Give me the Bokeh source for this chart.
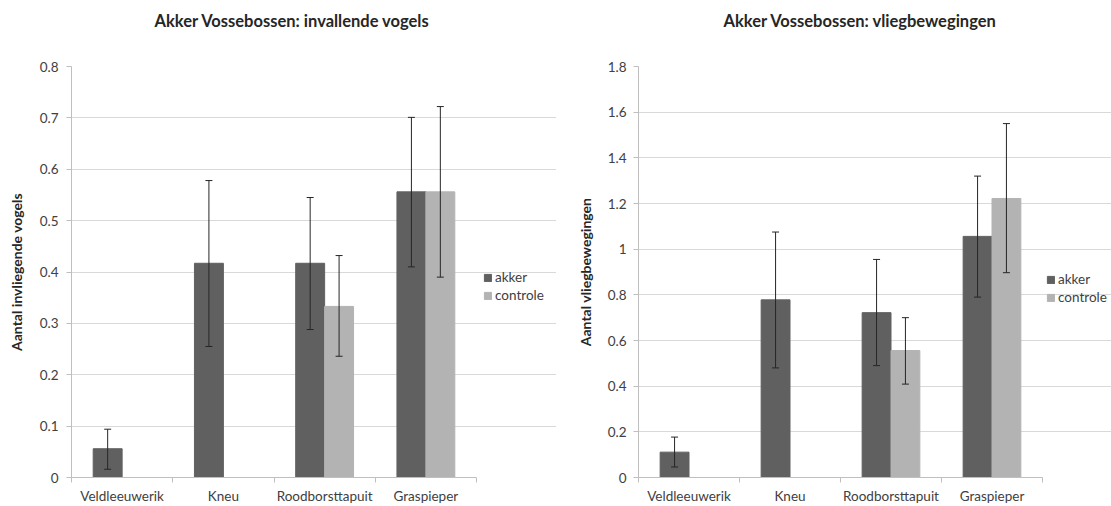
from bokeh.plotting import figure
from bokeh.models import (ColumnDataSource, Range1d, FixedTicker, Whisker, TeeHead,
                          Legend, LegendItem, CustomJSTickFormatter, Title)
from bokeh.layouts import row
from bokeh.transform import dodge
from bokeh.embed import file_html
from bokeh.resources import INLINE

# ---------------- data ----------------
categories = ["Veldleeuwerik", "Kneu", "Roodborsttapuit", "Graspieper"]
series_names = ["akker", "controle"]

# Chart 1: invallende vogels
inv_akker = [0.056, 0.417, 0.417, 0.556]
inv_akker_hi = [0.094, 0.578, 0.545, 0.701]
inv_akker_lo = [0.016, 0.255, 0.288, 0.410]
inv_controle = [None, None, 0.333, 0.556]
inv_controle_hi = [None, None, 0.432, 0.722]
inv_controle_lo = [None, None, 0.236, 0.390]
inv_yticks = [0, 0.1, 0.2, 0.3, 0.4, 0.5, 0.6, 0.7, 0.8]

# Chart 2: vliegbewegingen
vl_akker = [0.111, 0.778, 0.722, 1.056]
vl_akker_hi = [0.177, 1.075, 0.955, 1.320]
vl_akker_lo = [0.046, 0.480, 0.490, 0.790]
vl_controle = [None, None, 0.556, 1.222]
vl_controle_hi = [None, None, 0.700, 1.550]
vl_controle_lo = [None, None, 0.409, 0.897]
vl_yticks = [0, 0.2, 0.4, 0.6, 0.8, 1.0, 1.2, 1.4, 1.6, 1.8]

# ---------------- style ----------------
FONT = "Lato"
C_AKKER = "#606060"
C_CONTROLE = "#B3B3B3"
C_AXIS = "#BFBFBF"
C_GRID = "#D9D9D9"
C_TEXT = "#404040"
C_DARK = "#262626"
BAR_W = 0.2857
OFF = BAR_W / 2
FIG_H = 506


def make_source(vals, hi, lo):
    idx = [i for i, v in enumerate(vals) if v is not None]
    return ColumnDataSource(dict(
        x=[i for i in idx],
        top=[vals[i] for i in idx],
        hi=[hi[i] for i in idx],
        lo=[lo[i] for i in idx],
    ))


def make_chart(title, ylabel, yticks, a, ah, al, c, ch, cl,
               width, bl, cat_px, title_offset, legend_loc, label_standoff,
               ax_label_standoff):
    n = len(categories)
    frame_w = width - bl
    # the frame runs to the figure's right edge so that the legend (drawn in the
    # frame) is not clipped; grid and axis are bounded to the category area
    x_end = -0.5 + frame_w / cat_px
    p = figure(width=width, height=FIG_H, output_backend="svg", toolbar_location=None,
               x_range=Range1d(-0.5, x_end),
               y_range=Range1d(0, yticks[-1]),
               min_border_left=bl, min_border_right=0,
               min_border_top=66, min_border_bottom=27,
               outline_line_color=None, background_fill_color="white",
               border_fill_color="white")

    p.add_layout(Title(text=" ", text_font=FONT, text_font_size="15px", standoff=16), "above")
    p.title.standoff = 0
    p.title.text = title
    p.title.align = "left"
    p.title.offset = title_offset
    p.title.text_font = FONT
    p.title.text_font_size = "16.5px"
    p.title.text_font_style = "bold"
    p.title.text_color = C_DARK

    sa = make_source(a, ah, al)
    sc = make_source(c, ch, cl)

    ra = p.vbar(x=dodge("x", -OFF), top="top", width=BAR_W, source=sa,
                fill_color=C_AKKER, line_color=C_AKKER)
    rc = p.vbar(x=dodge("x", OFF), top="top", width=BAR_W, source=sc,
                fill_color=C_CONTROLE, line_color=C_CONTROLE)

    for src, off in ((sa, -OFF), (sc, OFF)):
        w = Whisker(source=src, base=dodge("x", off), upper="hi", lower="lo",
                    level="annotation",
                    line_color=C_DARK, line_width=1,
                    upper_head=TeeHead(size=7, line_color=C_DARK, line_width=1),
                    lower_head=TeeHead(size=7, line_color=C_DARK, line_width=1))
        p.add_layout(w)

    # x axis
    xa = p.xaxis[0]
    xa.bounds = (-0.5, n - 0.5)
    xa.ticker = FixedTicker(ticks=list(range(n)),
                            minor_ticks=[i - 0.5 for i in range(n + 1)])
    xa.major_label_overrides = {i: name for i, name in enumerate(categories)}
    xa.major_tick_line_color = None
    xa.major_tick_out = 0
    xa.minor_tick_out = 5
    xa.minor_tick_in = 0
    xa.minor_tick_line_color = C_AXIS
    xa.axis_line_color = C_AXIS
    xa.major_label_text_font = FONT
    xa.major_label_text_font_size = "13.5px"
    xa.major_label_text_color = C_TEXT
    xa.major_label_standoff = 5

    # y axis
    ya = p.yaxis[0]
    ya.ticker = FixedTicker(ticks=yticks, minor_ticks=[])
    ya.formatter = CustomJSTickFormatter(code="return String(+tick.toFixed(2));")
    ya.major_tick_out = 5
    ya.major_tick_in = 0
    ya.major_tick_line_color = C_AXIS
    ya.axis_line_color = C_AXIS
    ya.major_label_text_font = FONT
    ya.major_label_text_font_size = "13.5px"
    ya.major_label_text_color = C_TEXT
    ya.major_label_standoff = label_standoff
    ya.axis_label = ylabel
    ya.axis_label_text_font = FONT
    ya.axis_label_text_font_size = "14px"
    ya.axis_label_text_font_style = "bold"
    ya.axis_label_text_color = C_DARK
    ya.axis_label_standoff = ax_label_standoff

    p.xgrid.grid_line_color = None
    p.ygrid.grid_line_color = C_GRID
    p.ygrid.ticker = FixedTicker(ticks=yticks)
    p.ygrid.bounds = (-0.5, n - 0.5)

    items = [LegendItem(label=series_names[0], renderers=[ra]),
             LegendItem(label=series_names[1], renderers=[rc])]
    legend = Legend(items=items, location=legend_loc, margin=0, orientation="vertical",
                    glyph_width=9, glyph_height=9, label_standoff=3,
                    label_height=14, spacing=2, padding=0,
                    label_text_font=FONT, label_text_font_size="13.5px",
                    label_text_color=C_TEXT,
                    border_line_color=None, background_fill_alpha=0)
    p.add_layout(legend)
    return p


p1 = make_chart("Akker Vossebossen: invallende vogels", "Aantal invliegende vogels", inv_yticks,
                inv_akker, inv_akker_hi, inv_akker_lo,
                inv_controle, inv_controle_hi, inv_controle_lo,
                width=556, bl=71, cat_px=101.25, title_offset=83, legend_loc=(412, 174),
                label_standoff=8, ax_label_standoff=12)
p2 = make_chart("Akker Vossebossen: vliegbewegingen", "Aantal vliegbewegingen", vl_yticks,
                vl_akker, vl_akker_hi, vl_akker_lo,
                vl_controle, vl_controle_hi, vl_controle_lo,
                width=555, bl=82, cat_px=101.0, title_offset=85, legend_loc=(408, 172),
                label_standoff=7, ax_label_standoff=11)

layout = row(p1, p2, spacing=0)
open("out.html", "w").write(file_html(layout, INLINE))
